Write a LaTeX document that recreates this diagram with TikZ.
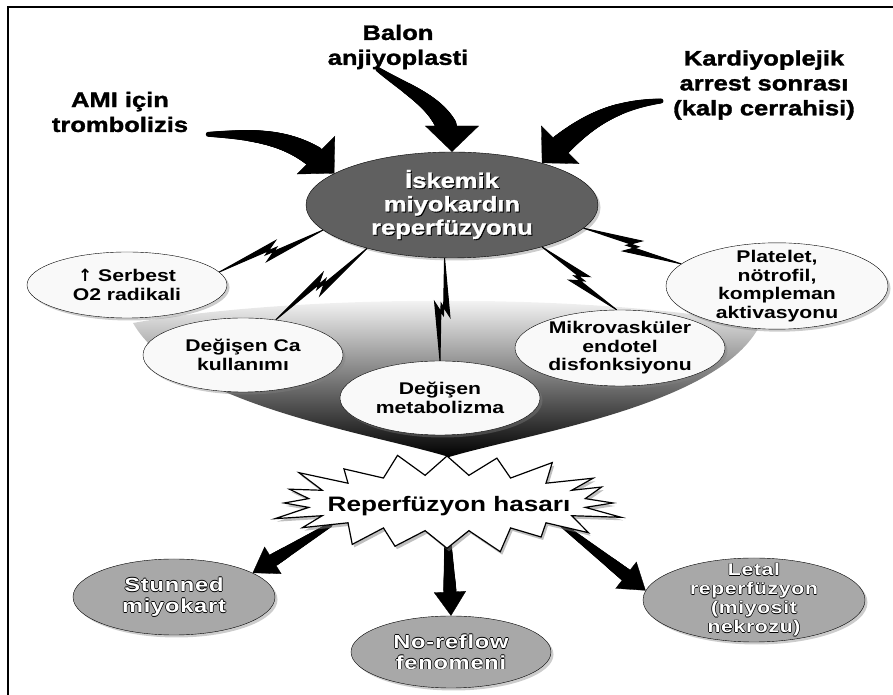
\documentclass[tikz,border=0pt]{standalone}
\usepackage{fontspec}
\setmainfont{Liberation Sans}
\newfontfamily\boldsans[FakeStretch=1.25]{Liberation Sans}
\newfontfamily\heavysans[FakeStretch=1.22,FakeBold=1.5]{Liberation Sans}
\newfontfamily\symsans{DejaVu Sans}
\usetikzlibrary{arrows.meta,calc,shapes.geometric,shadows,decorations.markings}

\definecolor{iskgray}{RGB}{96,96,96}
\definecolor{outgray}{RGB}{168,168,168}

\pgfdeclarelayer{back}
\pgfsetlayers{back,main}

% white text with a dark copy under it
\newcommand{\shtxt}[1]{\leavevmode\rlap{\kern1pt\lower1pt\hbox{\color{black}#1}}\hbox{\color{white}#1}}
% white text with a black rim
\newcommand{\outtxt}[1]{\leavevmode\rlap{\kern-.7pt\hbox{\color{black}#1}}\rlap{\kern.7pt\hbox{\color{black}#1}}%
  \rlap{\raise.7pt\hbox{\color{black}#1}}\rlap{\lower.7pt\hbox{\color{black}#1}}\hbox{\color{white}#1}}

\begin{document}
\begin{tikzpicture}[
    x = 1bp, y = 1bp, % one unit = one pixel of the sketch
    every node/.style = {inner sep = 0pt},
    source/.style = {font = \heavysans\bfseries\fontsize{21}{25}\selectfont, align = center},
    cause/.style = {ellipse, draw, thin, fill = gray!5, align = center, inner ysep = -5bp,
        font = \boldsans\bfseries\fontsize{17}{18.5}\selectfont,
        drop shadow = {shadow xshift = 2.5bp, shadow yshift = -2.5bp, opacity = .4}},
    result/.style = {cause, fill = outgray, inner ysep = -8bp,
        font = \boldsans\bfseries\fontsize{19}{21}\selectfont\addfontfeature{LetterSpace=4}},
    bolt/.style = {fill, line width = 1bp, line join = miter, miter limit = 12,
        to path = {-- ($(\tikztostart)!.56!(\tikztotarget)!1.5bp!90:(\tikztotarget)$)
                   -- ($(\tikztostart)!.43!(\tikztotarget)!8bp!-90:(\tikztotarget)$)
                   -- (\tikztotarget)
                   -- ($(\tikztostart)!.44!(\tikztotarget)!1.5bp!-90:(\tikztotarget)$)
                   -- ($(\tikztostart)!.57!(\tikztotarget)!8bp!90:(\tikztotarget)$)
                   -- cycle}},
    taper/.style n args = {4}{line width = .3bp, -{Triangle[width = #3, length = #4]},
        postaction = {decorate, decoration = {markings,
          mark = between positions 0 and -#4 step 1bp with {
            \fill (0,0) circle ({#1 + (#2-#1)*(\pgfkeysvalueof{/pgf/decoration/mark info/distance from start})/(\pgfdecoratedpathlength)});}}}}
    ]

    \useasboundingbox (0,0) rectangle (893,695);
    \draw[line width = 1.5bp] (893,688) -- (8,688) -- (8,0);

    % where it comes from
    \node[source] (ami) at (120,583) {AMI için\\trombolizis};
    \node[source] (balon) at (398,648) {Balon\\anjiyoplasti};
    \node[source] (kard) at (764,610) {Kardiyoplejik\\arrest sonrası\\(kalp cerrahisi)};

    \node[ellipse, draw, thin, fill = iskgray, minimum width = 292bp, minimum height = 106bp,
          align = center, font = \heavysans\bfseries\fontsize{21}{23.5}\selectfont,
          drop shadow = {shadow xshift = 2.5bp, shadow yshift = -2.5bp, opacity = .4}]
          (isk) at (452,490) {\shtxt{İskemik}\\\shtxt{miyokardın}\\\shtxt{reperfüzyonu}};

    % mechanisms
    \node[cause, minimum width = 200bp, minimum height = 66bp] (o2) at (127,410) {{\symsans\bfseries ↑} Serbest\\O2 radikali};
    \node[cause, minimum width = 200bp, minimum height = 74bp] (ca) at (243,340) {Değişen Ca\\kullanımı};
    \node[cause, minimum width = 200bp, minimum height = 74bp] (met) at (440,297) {Değişen\\metabolizma};
    \node[cause, minimum width = 210bp, minimum height = 76bp] (mik) at (620,347) {Mikrovasküler\\endotel\\disfonksiyonu};
    \node[cause, minimum width = 222bp, minimum height = 82bp] (plt) at (777,409) {Platelet,\\nötrofil,\\kompleman\\aktivasyonu};

    % outcomes
    \node[font = \boldsans\bfseries\fontsize{21}{24}\selectfont] (rh) at (449,189) {Reperfüzyon hasarı};
    \node[result, minimum width = 202bp, minimum height = 76bp] (stn) at (174,98) {\outtxt{Stunned}\\\outtxt{miyokart}};
    \node[result, minimum width = 200bp, minimum height = 72bp] (nrf) at (451,43) {\outtxt{No-reflow}\\\outtxt{fenomeni}};
    \node[result, minimum width = 222bp, minimum height = 84bp,
          font = \boldsans\bfseries\fontsize{17}{19}\selectfont\addfontfeature{LetterSpace=4}]
          (ltl) at (754,95) {\outtxt{Letal}\\\outtxt{reperfüzyon}\\\outtxt{(miyosit}\\\outtxt{nekrozu)}};

    \coordinate (hsw) at (330,170);
    \coordinate (hs) at (447,172);
    \coordinate (hse) at (562,170);

    \begin{pgfonlayer}{back}
    % funnel
    \shade[top color = white, middle color = black!70, bottom color = black]
        (133,372) .. controls (300,402) and (600,402) .. (760,370)
        .. controls (720,290) and (530,262) .. (449,238)
        .. controls (370,262) and (180,290) .. (133,372) -- cycle;

    \draw[taper = {2.5}{8}{32bp}{24bp}] (hsw) -- (stn.17);
    \draw[taper = {2.5}{8}{32bp}{24bp}] (hs) -- (nrf.north);
    \draw[taper = {2.5}{8}{34bp}{25bp}] (hse) -- (ltl.175);

    % burst
    \filldraw[fill = white, line width = 1.2bp, line join = miter,
              drop shadow = {shadow xshift = 2bp, shadow yshift = -3bp, opacity = .5}]
        (447,192) ++(90:172 and 47)
        \foreach \k [evaluate = \k as \rx using {mod(\k,2) == 0 ? 172+12*sin(\k*131) : 140},
                     evaluate = \k as \ry using {mod(\k,2) == 0 ? 47+5*sin(\k*71) : 28}] in {1,...,39}
        { -- ([shift = {(90+\k*9:{\rx} and {\ry})}]447,192) } -- cycle;
    \end{pgfonlayer}

    \draw[bolt] (isk.191) to (o2.8);
    \draw[bolt] (isk.207) to (ca.47);
    \draw[bolt] (isk.262) to (met.90);
    \draw[bolt] (isk.-25) to (mik.95);
    \draw[bolt] (isk.-10) to (plt.167);

    \draw[taper = {2.5}{13}{54bp}{26bp}] ([xshift = 20bp, yshift = -2bp]ami.south east) to[out = 0, in = 135] (isk.165);
    \draw[taper = {2.5}{13}{54bp}{26bp}] ([xshift = -20bp]balon.south) to[out = -35, in = 90] (isk.north);
    \draw[taper = {2.5}{13}{54bp}{26bp}] ([xshift = -12bp, yshift = -16bp]kard.west) to[out = 185, in = 45] (isk.25);
\end{tikzpicture}
\end{document}
